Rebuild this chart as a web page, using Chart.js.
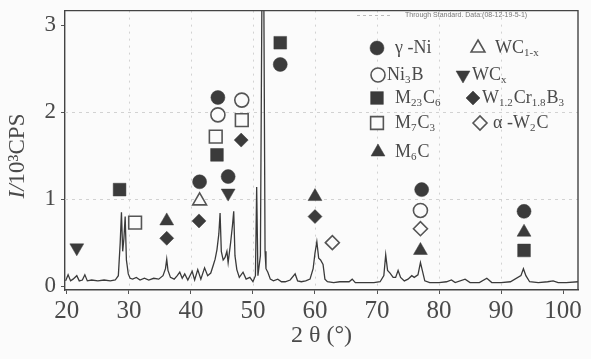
<!DOCTYPE html>
<html>
<head>
<meta charset="utf-8">
<script src="https://cdn.jsdelivr.net/npm/chart.js@4.4.1/dist/chart.umd.min.js"></script>
<style>
  body { margin: 0; background: #fbfbfb; }
  #chart-box { width: 591px; height: 359px; }
</style>
</head>
<body>
<div id="chart-box"><canvas id="xrd" width="591" height="359"></canvas></div>
<script>
// XRD pattern: 2theta (deg) vs intensity (10^3 CPS)
const twoTheta = [
  19.8, 20.2, 20.6, 21.0, 21.6, 22.0, 22.5, 22.9, 23.3, 24.0, 25.0, 26.0, 27.0, 27.8,
  28.3, 28.6, 28.8, 29.0, 29.2, 29.4, 29.6, 29.9, 30.2, 30.6, 31.2, 31.8, 32.5, 33.2,
  34.0, 34.8, 35.5, 35.9, 36.1, 36.3, 36.7, 37.3, 37.8, 38.2, 38.6, 39.0, 39.5, 40.2,
  40.6, 41.1, 41.6, 42.2, 42.7, 43.2, 43.6, 43.9, 44.2, 44.5, 44.7, 44.9, 45.2, 45.5,
  45.8, 46.0, 46.4, 46.7, 46.9, 47.1, 47.4, 47.8, 48.4, 48.9, 49.5, 50.0, 50.4, 50.6,
  50.8, 51.2, 51.45, 51.75, 51.95, 52.1, 52.4, 52.8, 53.3, 54.0, 54.6, 55.2, 56.0, 56.8,
  57.2, 57.8, 58.5, 59.2, 59.7, 60.0, 60.3, 60.6, 60.9, 61.3, 61.6, 62.0, 63.0, 64.0,
  65.5, 66.0, 66.5, 68.0, 69.5, 70.5, 71.1, 71.4, 71.7, 72.1, 72.6, 73.0, 73.4, 73.8,
  74.4, 75.0, 75.6, 76.0, 76.6, 77.0, 77.3, 77.7, 78.5, 80.0, 81.2, 82.0, 82.6, 84.2,
  85.0, 86.5, 87.7, 88.5, 90.0, 91.5, 93.2, 93.6, 94.0, 94.6, 96.0, 97.5, 98.4, 99.2,
  100.5, 102.4
];
const intensity = [
  0.06, 0.13, 0.06, 0.08, 0.12, 0.06, 0.07, 0.13, 0.06, 0.07, 0.06, 0.07, 0.06, 0.07,
  0.12, 0.50, 0.85, 0.40, 0.55, 0.80, 0.30, 0.14, 0.09, 0.08, 0.10, 0.07, 0.09, 0.07,
  0.09, 0.08, 0.12, 0.20, 0.31, 0.18, 0.10, 0.08, 0.12, 0.16, 0.09, 0.14, 0.07, 0.17,
  0.07, 0.19, 0.08, 0.21, 0.12, 0.15, 0.24, 0.31, 0.42, 0.60, 0.84, 0.40, 0.30, 0.33,
  0.40, 0.27, 0.50, 0.70, 0.86, 0.35, 0.19, 0.10, 0.16, 0.08, 0.10, 0.05, 0.12, 1.14,
  0.12, 0.35, 3.40, 3.40, 0.40, 0.20, 0.16, 0.08, 0.06, 0.08, 0.05, 0.05, 0.07, 0.14,
  0.06, 0.05, 0.06, 0.08, 0.20, 0.38, 0.51, 0.32, 0.30, 0.25, 0.08, 0.05, 0.04, 0.05,
  0.05, 0.08, 0.04, 0.04, 0.04, 0.05, 0.12, 0.36, 0.18, 0.15, 0.10, 0.10, 0.18, 0.10,
  0.06, 0.08, 0.12, 0.10, 0.13, 0.27, 0.18, 0.06, 0.04, 0.04, 0.05, 0.07, 0.04, 0.08,
  0.04, 0.04, 0.09, 0.04, 0.04, 0.05, 0.12, 0.20, 0.12, 0.05, 0.04, 0.05, 0.06, 0.04,
  0.04, 0.05
];

// phase markers: 2theta of the reflection and height of the symbol
const gammaNiX = [41.4, 44.35, 46.0, 54.4, 77.2, 93.7];
const gammaNiY = [1.20, 2.17, 1.26, 2.55, 1.11, 0.86];
const ni3BX = [44.35, 48.2, 77.0];
const ni3BY = [1.97, 2.14, 0.87];
const m23C6X = [28.5, 44.2, 54.4, 93.7];
const m23C6Y = [1.11, 1.51, 2.80, 0.41];
const m7C3X = [31.0, 44.0, 48.2];
const m7C3Y = [0.73, 1.72, 1.91];
const m6CX = [36.1, 60.0, 77.0, 93.7];
const m6CY = [0.75, 1.03, 0.41, 0.62];
const wc1xX = [41.4];
const wc1xY = [0.98];
const wcxX = [21.6, 46.0];
const wcxY = [0.44, 1.07];
const wcrbX = [36.1, 41.3, 48.1, 60.0];
const wcrbY = [0.55, 0.75, 1.68, 0.80];
const aW2CX = [62.8, 77.0];
const aW2CY = [0.50, 0.66];

// legend text ("_" = subscript)
const legendLabels = ["γ -Ni", "Ni_3B", "M_{23}C_6", "M_7C_3", "M_6C",
                      "WC_{1-x}", "WC_x", "W_{1.2}Cr_{1.8}B_3", "α -W_2C"];

const xTickValues = [20, 30, 40, 50, 60, 70, 80, 90, 100];
const yTickValues = [0, 1, 2, 3];
const gridX = [30, 40, 50, 60, 70, 80, 90];
const gridY = [1, 2];

const ink = "#3b3b3b";
const paper = "#fbfbfb";
const serif = "'Times New Roman', 'Liberation Serif', serif";

// one entry per phase, same order as legendLabels
const phaseStyle = [
  { style: "circle", radius: 7, filled: true, rot: 0 },
  { style: "circle", radius: 7, filled: false, rot: 0 },
  { style: "rect", radius: 9, filled: true, rot: 0 },
  { style: "rect", radius: 9, filled: false, rot: 0 },
  { style: "triangle", radius: 8, filled: true, rot: 0 },
  { style: "triangle", radius: 8, filled: false, rot: 0 },
  { style: "triangle", radius: 8, filled: true, rot: 180 },
  { style: "rectRot", radius: 7, filled: true, rot: 0 },
  { style: "rectRot", radius: 7, filled: false, rot: 0 },
];
const phaseX = [gammaNiX, ni3BX, m23C6X, m7C3X, m6CX, wc1xX, wcxX, wcrbX, aW2CX];
const phaseY = [gammaNiY, ni3BY, m23C6Y, m7C3Y, m6CY, wc1xY, wcxY, wcrbY, aW2CY];

// where each legend entry sits: marker x, text x, row y
const legendSpots = [
  [377, 395, 48], [378, 387, 75], [377, 395, 98], [377, 395, 123], [378, 395, 152],
  [478, 495, 48], [463, 472, 75], [473, 482, 98], [480, 493, 123],
];

// draw a label with simple subscript markup
function drawRich(ctx, text, x, y, size) {
  const parts = text.match(/_\{[^}]*\}|_.|[^_]+/g) || [];
  let cx = x;
  parts.forEach((p) => {
    let sub = false;
    if (p.startsWith("_{")) { p = p.slice(2, -1); sub = true; }
    else if (p.startsWith("_")) { p = p.slice(1); sub = true; }
    ctx.font = (sub ? Math.round(size * 0.62) : size) + "px " + serif;
    ctx.fillText(p, cx, sub ? y + size * 0.28 : y);
    cx += ctx.measureText(p).width + (sub ? 1 : 0);
  });
}

function markerOpts(ps) {
  return { pointStyle: ps.style, radius: ps.radius, rotation: ps.rot, borderWidth: ps.filled ? 0.5 : 1.6 };
}

const decorPlugin = {
  id: "decor",
  beforeDatasetsDraw(chart) {
    // faint dashed reference lines from the recorder grid
    const { ctx, chartArea: a, scales } = chart;
    ctx.save();
    ctx.strokeStyle = "#d2d2d2";
    ctx.lineWidth = 1;
    ctx.setLineDash([3, 4]);
    gridY.forEach((v) => {
      const py = Math.round(scales.y.getPixelForValue(v)) + 0.5;
      ctx.beginPath(); ctx.moveTo(a.left, py); ctx.lineTo(a.right, py); ctx.stroke();
    });
    ctx.setLineDash([2, 5]);
    gridX.forEach((v) => {
      const px = Math.round(scales.x.getPixelForValue(v)) + 0.5;
      ctx.beginPath(); ctx.moveTo(px, a.top); ctx.lineTo(px, a.bottom); ctx.stroke();
    });
    ctx.restore();
  },
  afterDraw(chart) {
    const { ctx, chartArea: a } = chart;
    ctx.save();
    // top and right frame
    ctx.strokeStyle = "#444";
    ctx.lineWidth = 1.4;
    ctx.beginPath();
    ctx.moveTo(a.left, a.top); ctx.lineTo(a.right, a.top); ctx.lineTo(a.right, a.bottom);
    ctx.stroke();

    // instrument stamp in the corner
    ctx.fillStyle = "#777";
    ctx.font = "7px 'Liberation Sans', sans-serif";
    ctx.textBaseline = "middle";
    ctx.fillText("Through Standard. Data:(08-12-19-5-1)", 405, 15);
    ctx.strokeStyle = "#bbb";
    ctx.lineWidth = 1;
    ctx.setLineDash([3, 3]);
    ctx.beginPath(); ctx.moveTo(357, 15.5); ctx.lineTo(393, 15.5); ctx.stroke();
    ctx.setLineDash([]);

    // legend
    legendLabels.forEach((label, i) => {
      const [mx, tx, ry] = legendSpots[i];
      const ps = phaseStyle[i];
      ctx.fillStyle = ps.filled ? ink : paper;
      ctx.strokeStyle = ps.filled ? ink : "#555";
      ctx.lineWidth = ps.filled ? 0.5 : 1.6;
      Chart.helpers.drawPoint(ctx, markerOpts(ps), mx, ry);
      ctx.fillStyle = "#4a4a4a";
      ctx.textBaseline = "middle";
      drawRich(ctx, label, tx, ry, 18);
    });

    // y axis title, italic I
    ctx.translate(18, 156);
    ctx.rotate(-Math.PI / 2);
    ctx.fillStyle = "#4a4a4a";
    ctx.textBaseline = "middle";
    ctx.font = "italic 23px " + serif;
    const w1 = ctx.measureText("I/").width;
    ctx.font = "23px " + serif;
    const w2 = ctx.measureText("10³CPS").width;
    let sx = -(w1 + w2) / 2;
    ctx.font = "italic 23px " + serif;
    ctx.fillText("I/", sx, 0);
    ctx.font = "23px " + serif;
    ctx.fillText("10³CPS", sx + w1, 0);
    ctx.restore();
  },
};

const datasets = legendLabels.map((label, i) => {
  const ps = phaseStyle[i];
  return {
    type: "scatter",
    label: label,
    data: phaseX[i].map((x, k) => ({ x: x, y: phaseY[i][k] })),
    pointStyle: ps.style,
    pointRadius: ps.radius,
    pointRotation: ps.rot,
    pointBackgroundColor: ps.filled ? ink : paper,
    pointBorderColor: ps.filled ? ink : "#555",
    pointBorderWidth: ps.filled ? 0.5 : 1.6,
    order: 0,
  };
});

datasets.push({
  type: "line",
  label: "pattern",
  data: twoTheta.map((x, k) => ({ x: x, y: intensity[k] })),
  borderColor: "#3a3a3a",
  borderWidth: 1.3,
  pointRadius: 0,
  tension: 0,
  order: 1,
});

new Chart(document.getElementById("xrd").getContext("2d"), {
  data: { datasets: datasets },
  options: {
    responsive: false,
    animation: false,
    devicePixelRatio: 1,
    layout: { padding: { left: 0, right: 13, top: 4, bottom: 0 } },
    plugins: { legend: { display: false }, tooltip: { enabled: false } },
    scales: {
      x: {
        type: "linear",
        min: 19.7,
        max: 102.4,
        afterBuildTicks: (s) => { s.ticks = xTickValues.map((v) => ({ value: v })); },
        afterFit: (s) => { s.height = 69; s.paddingLeft = 0; s.paddingRight = 0; },
        ticks: { font: { family: serif, size: 25 }, color: "#4a4a4a", padding: 2, maxRotation: 0, autoSkip: false },
        grid: { drawOnChartArea: false, tickLength: 4, tickColor: "#555" },
        border: { color: "#444", width: 1.4 },
        title: { display: true, text: "2 θ (°)", font: { family: serif, size: 24 }, color: "#4a4a4a", padding: { top: 0, bottom: 9 } },
      },
      y: {
        type: "linear",
        min: -0.045,
        max: 3.17,
        afterBuildTicks: (s) => { s.ticks = yTickValues.map((v) => ({ value: v })); },
        afterFit: (s) => { s.width = 65; s.paddingTop = 0; s.paddingBottom = 0; },
        ticks: { font: { family: serif, size: 23 }, color: "#4a4a4a", padding: 5 },
        grid: { drawOnChartArea: false, tickLength: 4, tickColor: "#555" },
        border: { color: "#444", width: 1.4 },
      },
    },
  },
  plugins: [decorPlugin],
});
</script>
</body>
</html>
